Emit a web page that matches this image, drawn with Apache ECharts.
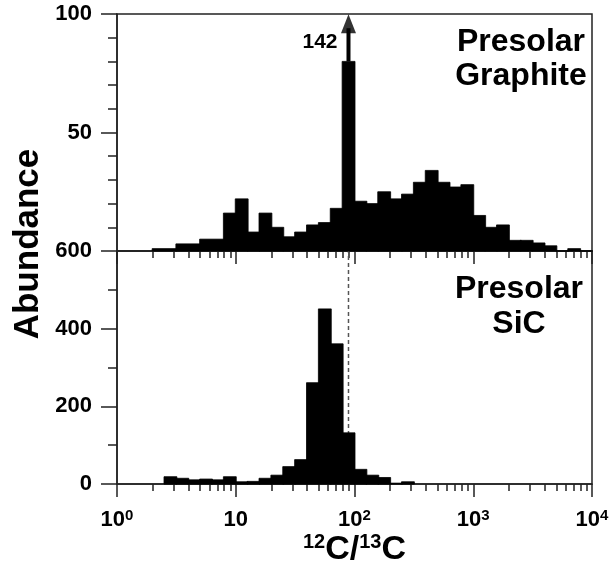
<!DOCTYPE html>
<html>
<head>
<meta charset="utf-8">
<script src="https://cdn.jsdelivr.net/npm/echarts@6/dist/echarts.min.js"></script>
<style>
  html, body { margin: 0; padding: 0; background: #fff; }
  #chart { width: 614px; height: 568px; }
</style>
</head>
<body>
<div id="chart"></div>
<script>
// Bords des classes en log10(12C/13C) et comptages
const graphiteEdges = [0.3, 0.5, 0.7, 0.9, 1.0, 1.1, 1.2, 1.3, 1.4, 1.5, 1.6, 1.7, 1.8, 1.9, 2.0,
  2.1, 2.2, 2.3, 2.4, 2.5, 2.6, 2.7, 2.8, 2.9, 3.0, 3.1, 3.2, 3.3, 3.4, 3.5, 3.6, 3.7, 3.8, 3.9, 4.0];
const graphiteCounts = [1, 3, 5, 16, 22, 8, 16, 10, 6, 8, 11, 12, 18, 142,
  21, 20, 25, 22, 24, 29, 34, 29, 27, 28, 15, 10, 11, 4.5, 4.5, 3.4, 2.2, 0, 1, 0];

const sicEdges = [0.4, 0.5, 0.6, 0.7, 0.8, 0.9, 1.0, 1.1, 1.2, 1.3, 1.4, 1.5, 1.6, 1.7, 1.8,
  1.9, 2.0, 2.1, 2.2, 2.3, 2.4, 2.5];
const sicCounts = [19, 15, 11, 13, 11, 19, 6, 7, 15, 23, 45, 63, 261, 451, 361,
  132, 38, 23, 17, 2.5, 6];

// Valeur hors échelle : la barre est coupée à cette hauteur et une flèche indique la vraie valeur
const offScaleCap = 80;
const solarRatio = 89;

const xTickLabels = [["10", "0"], ["10", ""], ["10", "2"], ["10", "3"], ["10", "4"]];
const xMinorTicks = [2, 3, 4, 5, 6, 7, 8, 9, 20, 30, 40, 50, 60, 70, 80, 90,
  200, 300, 400, 500, 600, 700, 800, 900, 2000, 3000, 4000, 5000, 6000, 7000, 8000, 9000];
const graphiteYLabels = [50, 100];
const sicYLabels = [0, 200, 400, 600];

const FONT = '"Liberation Sans", Arial, Helvetica, sans-serif';
const INK = "#000";
const LINE = "#222";

function binData(edges, counts, cap) {
  return counts.map((c, i) => [edges[i], edges[i + 1], cap ? Math.min(c, cap) : c]);
}

function renderBin(params, api) {
  const p0 = api.coord([api.value(0), api.value(2)]);
  const p1 = api.coord([api.value(1), 0]);
  return {
    type: "rect",
    shape: { x: p0[0] - 0.5, y: p0[1], width: p1[0] - p0[0] + 1, height: p1[1] - p0[1] },
    style: { fill: INK, stroke: INK, lineWidth: 0.8 },
  };
}

function majorX(gridIndex, withLabels) {
  return {
    type: "value",
    gridIndex,
    min: 0,
    max: 4,
    interval: 1,
    position: "bottom",
    axisLine: { show: true, lineStyle: { color: LINE, width: 1.5 } },
    axisTick: { show: true, length: 13, lineStyle: { color: LINE, width: 1.5 } },
    splitLine: { show: false },
    axisLabel: {
      show: withLabels,
      margin: 24,
      formatter: (v) => {
        const t = xTickLabels[Math.round(v)];
        return t[1] ? `{b|${t[0]}}{s|${t[1]}}` : `{b|${t[0]}}`;
      },
      rich: {
        b: { fontFamily: FONT, fontWeight: "bold", fontSize: 22, lineHeight: 24, color: INK },
        s: { fontFamily: FONT, fontWeight: "bold", fontSize: 15, lineHeight: 15, verticalAlign: "top", color: INK },
      },
    },
  };
}

function minorX(gridIndex) {
  return {
    type: "value",
    gridIndex,
    min: 0,
    max: 4,
    position: "bottom",
    axisLine: { show: false },
    axisTick: {
      show: true,
      length: 7,
      customValues: xMinorTicks.map((v) => Math.log10(v)),
      lineStyle: { color: LINE, width: 1.5 },
    },
    axisLabel: { show: false },
    splitLine: { show: false },
  };
}

function yAxes(gridIndex, max, minor, major, labels) {
  return [
    {
      type: "value",
      gridIndex,
      min: 0,
      max,
      interval: minor,
      axisLine: { show: true, lineStyle: { color: LINE, width: 1.5 } },
      axisTick: { show: true, length: 9, lineStyle: { color: LINE, width: 1.5 } },
      splitLine: { show: false },
      axisLabel: {
        margin: 25,
        color: INK,
        fontFamily: FONT,
        fontWeight: "bold",
        fontSize: 22,
        formatter: (v) => (labels.includes(v) ? String(v) : ""),
      },
    },
    {
      type: "value",
      gridIndex,
      min: 0,
      max,
      interval: major,
      position: "left",
      axisLine: { show: false },
      axisTick: { show: true, length: 16, lineStyle: { color: LINE, width: 1.5 } },
      splitLine: { show: false },
      axisLabel: { show: false },
    },
  ];
}

const xSolar = Math.log10(solarRatio);

const option = {
  animation: false,
  backgroundColor: "#fff",
  grid: [
    { left: 117, top: 14, width: 475, height: 237, show: true, borderColor: LINE, borderWidth: 1.5 },
    { left: 117, top: 251, width: 475, height: 237, show: true, borderColor: LINE, borderWidth: 1.5 },
  ],
  xAxis: [
    majorX(0, false),
    minorX(0),
    Object.assign(majorX(1, true), {
      name: "{s|12}{b|C/}{s|13}{b|C}",
      nameLocation: "middle",
      nameGap: 46,
      nameTextStyle: {
        rich: {
          b: { fontFamily: FONT, fontWeight: "bold", fontSize: 34, lineHeight: 36, color: INK },
          s: { fontFamily: FONT, fontWeight: "bold", fontSize: 20, lineHeight: 20, verticalAlign: "top", color: INK },
        },
      },
    }),
    minorX(1),
  ],
  yAxis: [
    ...yAxes(0, 100, 10, 50, graphiteYLabels),
    ...yAxes(1, 600, 100, 200, sicYLabels),
  ],
  graphic: [
    {
      type: "text",
      x: 28,
      y: 244,
      rotation: Math.PI / 2,
      style: {
        text: "Abundance",
        font: `bold 35px ${FONT}`,
        fill: INK,
        textAlign: "center",
        textVerticalAlign: "middle",
      },
    },
    {
      type: "text",
      x: 521,
      y: 25,
      style: {
        text: "Presolar\nGraphite",
        font: `bold 32px ${FONT}`,
        lineHeight: 34,
        fill: INK,
        textAlign: "center",
        textVerticalAlign: "top",
      },
    },
    {
      type: "text",
      x: 519,
      y: 272,
      style: {
        text: "Presolar\nSiC",
        font: `bold 32px ${FONT}`,
        lineHeight: 35,
        fill: INK,
        textAlign: "center",
        textVerticalAlign: "top",
      },
    },
  ],
  series: [
    {
      name: "Graphite",
      type: "custom",
      xAxisIndex: 0,
      yAxisIndex: 0,
      renderItem: renderBin,
      encode: { x: [0, 1], y: 2 },
      data: binData(graphiteEdges, graphiteCounts, offScaleCap),
      z: 3,
    },
    {
      // tige de la flèche hors échelle
      name: "arrowShaft",
      type: "line",
      xAxisIndex: 0,
      yAxisIndex: 0,
      symbol: "none",
      lineStyle: { color: INK, width: 4 },
      data: [[xSolar, offScaleCap], [xSolar, 94]],
      z: 4,
    },
    {
      name: "arrowHead",
      type: "scatter",
      xAxisIndex: 0,
      yAxisIndex: 0,
      symbol: "triangle",
      symbolSize: [15, 19],
      itemStyle: { color: INK },
      data: [[xSolar, 95.9]],
      z: 5,
    },
    {
      name: "offScaleLabel",
      type: "scatter",
      xAxisIndex: 0,
      yAxisIndex: 0,
      symbolSize: 0,
      itemStyle: { color: INK },
      label: {
        show: true,
        position: "left",
        distance: 11,
        formatter: String(Math.max(...graphiteCounts)),
        color: INK,
        opacity: 1,
        fontFamily: FONT,
        fontWeight: "bold",
        fontSize: 21,
      },
      data: [[xSolar, 88]],
      z: 5,
    },
    {
      name: "solar",
      type: "line",
      xAxisIndex: 2,
      yAxisIndex: 2,
      symbol: "none",
      lineStyle: { color: "#555", width: 1.5, type: [4, 3] },
      data: [[xSolar, 0], [xSolar, 600]],
      z: 1,
    },
    {
      name: "SiC",
      type: "custom",
      xAxisIndex: 2,
      yAxisIndex: 2,
      renderItem: renderBin,
      encode: { x: [0, 1], y: 2 },
      data: binData(sicEdges, sicCounts),
      z: 3,
    },
  ],
};

const chart = echarts.init(document.getElementById("chart"));
chart.setOption(option);
</script>
</body>
</html>
